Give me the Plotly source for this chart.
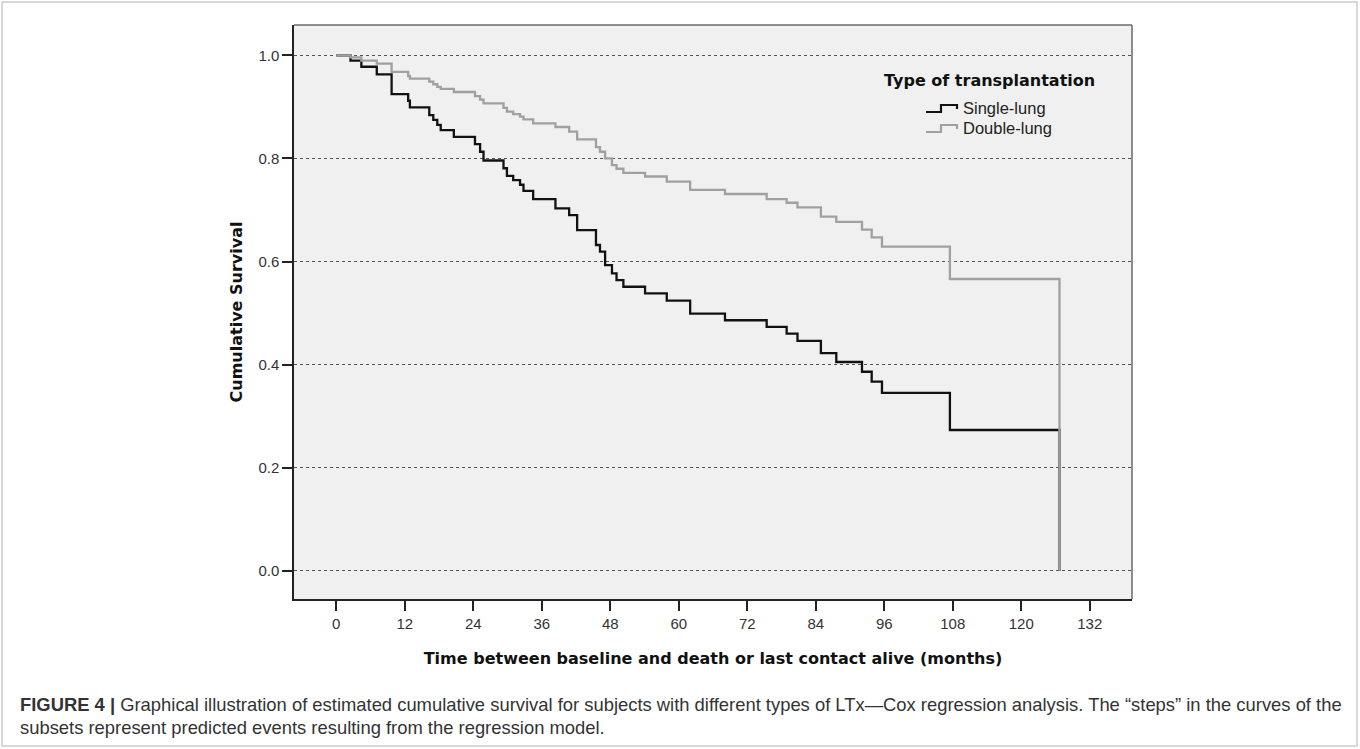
import plotly.graph_objects as go

# Event times (months) shared by both predicted Cox curves
months = [0, 2.5, 4.4, 7.1, 9.7, 12.6, 12.9, 16.3, 17.0, 17.7, 18.3, 20.6, 24.3, 25.2, 25.8,
          29.3, 29.9, 31.0, 32.2, 32.8, 34.5, 38.4, 40.8, 42.2, 45.5, 46.2, 47.1, 48.3, 49.1,
          50.3, 54.1, 57.9, 62.0, 68.1, 75.4, 78.9, 80.8, 84.9, 87.6, 92.1, 93.8, 95.6,
          107.5, 126.7]

single_lung = [1.0, 0.990, 0.978, 0.963, 0.925, 0.912, 0.899, 0.884, 0.875, 0.865, 0.855, 0.842,
               0.828, 0.813, 0.796, 0.781, 0.766, 0.758, 0.749, 0.737, 0.721, 0.703, 0.690, 0.661,
               0.632, 0.619, 0.593, 0.577, 0.564, 0.551, 0.538, 0.524, 0.499, 0.486, 0.473, 0.460,
               0.446, 0.422, 0.405, 0.386, 0.367, 0.345, 0.273, 0.0]

double_lung = [1.0, 0.996, 0.990, 0.984, 0.968, 0.960, 0.955, 0.949, 0.944, 0.939, 0.935, 0.929,
               0.921, 0.914, 0.907, 0.898, 0.891, 0.886, 0.881, 0.876, 0.868, 0.861, 0.852, 0.837,
               0.822, 0.813, 0.800, 0.787, 0.780, 0.772, 0.765, 0.755, 0.739, 0.731, 0.721, 0.714,
               0.705, 0.687, 0.677, 0.662, 0.647, 0.629, 0.566, 0.0]

x_ticks = [0, 12, 24, 36, 48, 60, 72, 84, 96, 108, 120, 132]
y_ticks = [0.0, 0.2, 0.4, 0.6, 0.8, 1.0]
y_tick_labels = ["0.0", "0.2", "0.4", "0.6", "0.8", "1.0"]

series_names = ["Single-lung", "Double-lung"]
series_colors = ["#111111", "#a0a0a0"]
legend_title = "Type of transplantation"
x_title = "Time between baseline and death or last contact alive (months)"
y_title = "Cumulative Survival"
caption_1 = ("<b>FIGURE 4 |</b> Graphical illustration of estimated cumulative survival for subjects "
             "with different types of LTx\u2014Cox regression analysis. The \u201csteps\u201d in the curves of the")
caption_2 = "subsets represent predicted events resulting from the regression model."

BOLD = "DejaVu Sans, Verdana, sans-serif"
REG = "Liberation Sans, Arial, sans-serif"

fig = go.Figure()
for name, vals, col in zip(series_names, [single_lung, double_lung], series_colors):
    fig.add_trace(go.Scatter(x=months, y=vals, mode="lines", line_shape="hv",
                             name=name, showlegend=False, line=dict(color=col, width=2.3)))

L, R, T, B = 294, 1132, 25, 599
W, H = 1360, 749


def px_x(p):
    return (p - L) / (R - L)


def px_y(p):
    return (B - p) / (B - T)


fig.update_layout(
    width=W, height=H,
    margin=dict(l=L, r=W - R, t=T, b=H - B),
    paper_bgcolor="white",
    plot_bgcolor="#f0f0f0",
    font=dict(family=REG, color="#333333", size=15),
    showlegend=False,
    xaxis=dict(
        range=[-7.4, 139.4], tickvals=x_ticks, ticks="outside", ticklen=10, tickwidth=1.5,
        tickcolor="#222222", showgrid=False, zeroline=False,
        showline=True, linecolor="#222222", linewidth=1.5,
        tickfont=dict(family=REG, size=15, color="#333333"),
        title=dict(text="<b>" + x_title + "</b>", standoff=22,
                   font=dict(family=BOLD, size=16, color="#111111")),
    ),
    yaxis=dict(
        range=[-0.055, 1.059], tickvals=y_ticks, ticktext=y_tick_labels, ticks="outside",
        ticklen=10, tickwidth=1.5, tickcolor="#222222",
        showgrid=True, gridcolor="#555555", griddash="3px,3px", gridwidth=1,
        zeroline=False, showline=True, linecolor="#222222", linewidth=1.5,
        tickfont=dict(family=REG, size=15, color="#333333"),
        title=dict(text="<b>" + y_title + "</b>", standoff=12,
                   font=dict(family=BOLD, size=16, color="#111111")),
    ),
)

# frame: top and right edges
fig.add_shape(type="line", xref="paper", yref="paper", x0=0, x1=1, y0=1, y1=1,
              line=dict(color="#6a6a6a", width=1.5))
fig.add_shape(type="line", xref="paper", yref="paper", x0=1, x1=1, y0=0, y1=1,
              line=dict(color="#6a6a6a", width=1.5))
# outer figure border
fig.add_shape(type="rect", xref="paper", yref="paper",
              x0=px_x(2), x1=px_x(1357), y0=px_y(746), y1=px_y(2),
              line=dict(color="#cccccc", width=1.5), layer="below")

# legend (drawn manually, SPSS-style step symbols)
fig.add_annotation(text="<b>" + legend_title + "</b>", xref="paper", yref="paper",
                   x=px_x(989), y=px_y(81), xanchor="center", yanchor="middle", showarrow=False,
                   font=dict(family=BOLD, size=16, color="#111111"))
for i, (name, col) in enumerate(zip(series_names, series_colors)):
    yc = 108 + 20 * i
    path = "M {} {} L {} {} L {} {} L {} {} L {} {}".format(
        px_x(926), px_y(yc + 4), px_x(941), px_y(yc + 4), px_x(941), px_y(yc - 3),
        px_x(957), px_y(yc - 3), px_x(957), px_y(yc + 1))
    fig.add_shape(type="path", xref="paper", yref="paper", path=path,
                  line=dict(color=col, width=2.2))
    fig.add_annotation(text=name, xref="paper", yref="paper", x=px_x(961), y=px_y(yc),
                       xanchor="left", yanchor="middle", showarrow=False,
                       font=dict(family=REG, size=16.5, color="#222222"))

fig.add_annotation(text=caption_1, xref="paper", yref="paper", x=px_x(18), y=px_y(704),
                   xanchor="left", yanchor="middle", showarrow=False, align="left",
                   font=dict(family=REG, size=18.4, color="#333333"))
fig.add_annotation(text=caption_2, xref="paper", yref="paper", x=px_x(18), y=px_y(727),
                   xanchor="left", yanchor="middle", showarrow=False, align="left",
                   font=dict(family=REG, size=18.4, color="#333333"))

fig.write_html("out.html", config={"displayModeBar": False},
               post_script="document.body.style.margin='0px';")
